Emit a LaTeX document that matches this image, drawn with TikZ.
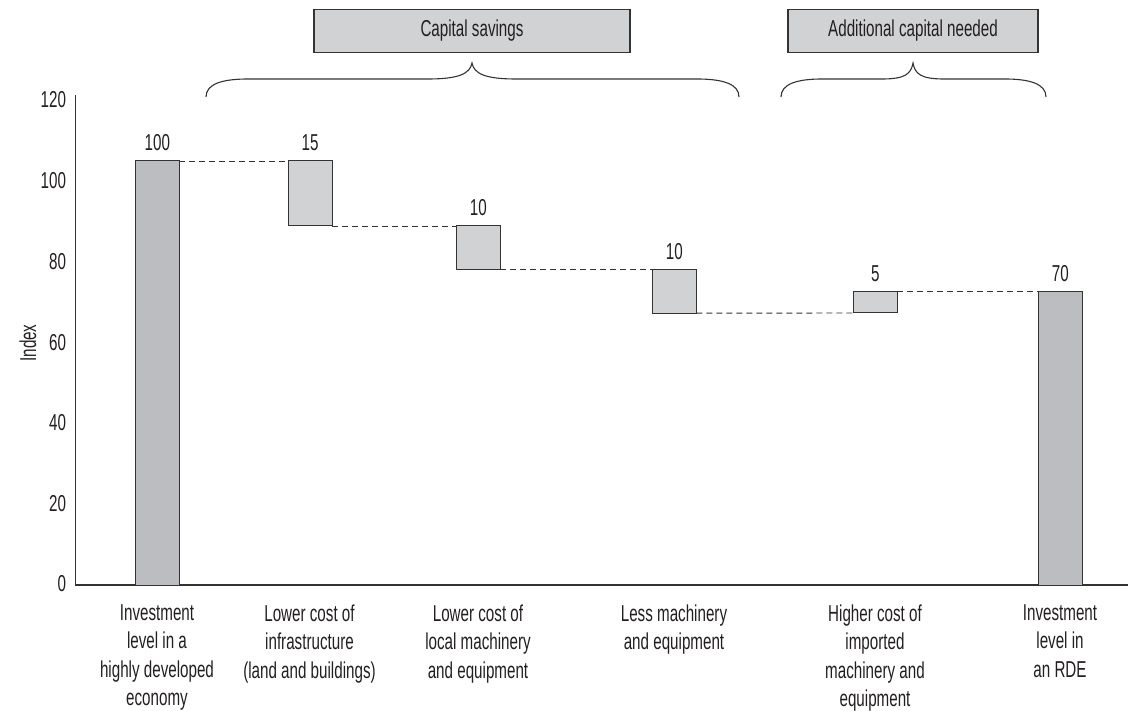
\documentclass[tikz,border=0pt]{standalone}
\usepackage{fontspec}
\setmainfont{Liberation Sans}[FakeStretch=0.66]
\definecolor{txt}{HTML}{231F20}
\definecolor{darkbar}{HTML}{BCBDC0}
\definecolor{lightbar}{HTML}{D1D2D4}
\definecolor{edge}{HTML}{333333}
\begin{document}
\begin{tikzpicture}[x=1pt,y=-1pt,
  lbl/.style={font=\fontsize{23}{28.5}\selectfont, text=txt, inner sep=0pt, outer sep=0pt},
  catlbl/.style={lbl, align=center, anchor=north},
  barbox/.style={draw=edge, line width=1pt, inner sep=0pt, outer sep=0pt, minimum width=44pt, anchor=north west},
  darkbox/.style={barbox, fill=darkbar},
  lightbox/.style={barbox, fill=lightbar},
  hdr/.style={lbl, draw=edge, line width=1.3pt, fill=lightbar, minimum height=43pt},
  guide/.style={draw=edge, line width=0.9pt, dash pattern=on 6pt off 4pt},
  axisline/.style={draw=edge, line width=1.2pt},
  bracepath/.style={draw=edge, line width=1.1pt}
]
\useasboundingbox (0,0) rectangle (1130,711);

% axes
\draw[axisline] (75.5,95) -- (75.5,585) -- (1128,585);
\foreach \v/\y in {120/100,100/181,80/262,60/343,40/423,20/504,0/584}
  \node[lbl, anchor=east] (t\v) at (66,\y) {\v};
\node[lbl, rotate=90] (yl) at (28,343) {Index};

% bars
\node[darkbox, minimum height=424pt] (b1) at (135.3,161) {};
\node[lightbox, minimum height=65pt] (b2) at (288,161) {};
\node[lightbox, minimum height=43.6pt] (b3) at (456.3,226) {};
\node[lightbox, minimum height=43.6pt] (b4) at (652.3,269.6) {};
\node[lightbox, minimum height=21.3pt] (b5) at (853.3,291.7) {};
\node[darkbox, minimum height=293.3pt] (b6) at (1038.3,291.7) {};

% value labels
\node[lbl, anchor=base] (v1) at ([yshift=10pt]b1.north) {100};
\node[lbl, anchor=base] (v2) at ([yshift=10pt]b2.north) {15};
\node[lbl, anchor=base] (v3) at ([yshift=10pt]b3.north) {10};
\node[lbl, anchor=base] (v4) at ([yshift=10pt]b4.north) {10};
\node[lbl, anchor=base] (v5) at ([yshift=10pt]b5.north) {5};
\node[lbl, anchor=base] (v6) at ([yshift=10pt]b6.north) {70};

% dashed guides
\draw[guide] (b1.north east) -- (b2.north west);
\draw[guide] (b2.south east) -- (b3.north west);
\draw[guide] (b3.south east) -- (b4.north west);
\draw[guide] (b4.south east) -- (b5.south west);
\draw[guide] (b5.north east) -- (b6.north west);

% category labels
\node[catlbl] (c1) at (157,604.5) {Investment\\level in a\\highly developed\\economy};
\node[catlbl] (c2) at (309.5,604.5) {Lower cost of\\infrastructure\\(land and buildings)};
\node[catlbl] (c3) at (478,604.5) {Lower cost of\\local machinery\\and equipment};
\node[catlbl] (c4) at (674,604.5) {Less machinery\\and equipment};
\node[catlbl] (c5) at (875,604.5) {Higher cost of\\imported\\machinery and\\equipment};
\node[catlbl] (c6) at (1060,604.5) {Investment\\level in\\an RDE};

% header boxes
\node[hdr, minimum width=316pt] (h1) at (472,30.7) {Capital savings};
\node[hdr, minimum width=250pt] (h2) at (913,30.7) {Additional capital needed};

% braces
\draw[bracepath] (206,97) .. controls (206,84) and (222,79) .. (248,79) -- (428,79)
  .. controls (458,79) and (470,74) .. (472,63)
  .. controls (474,74) and (486,79) .. (516,79) -- (697,79)
  .. controls (723,79) and (739,84) .. (739,97);
\draw[bracepath] (781,97) .. controls (781,84) and (797,79) .. (822,79) -- (882,79)
  .. controls (905,79) and (911,74) .. (913,63)
  .. controls (915,74) and (921,79) .. (944,79) -- (1005,79)
  .. controls (1030,79) and (1046,84) .. (1046,97);
\end{tikzpicture}
\end{document}
